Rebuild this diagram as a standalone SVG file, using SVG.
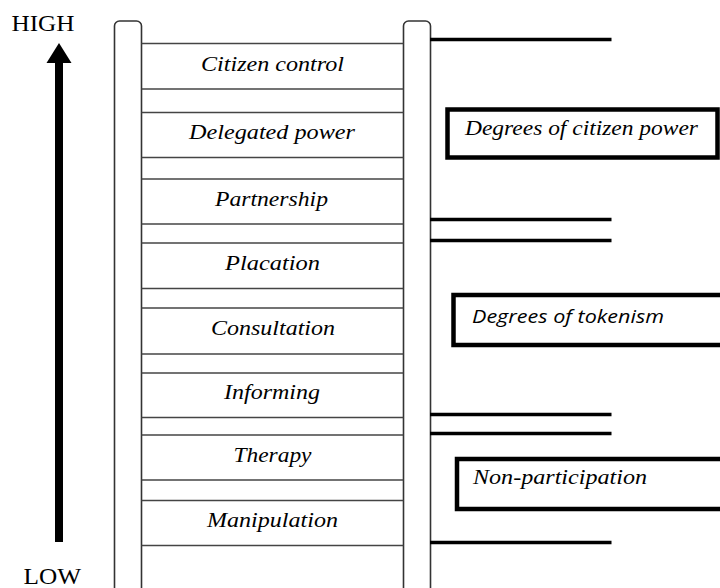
<svg xmlns="http://www.w3.org/2000/svg" width="720" height="588" viewBox="0 0 720 588">
<style>
.rail{fill:#fff;stroke:#333;stroke-width:1.6}
.rung{stroke:#444;stroke-width:1.6}
.lab{font-family:"Liberation Serif",serif;font-style:italic;font-size:21px;fill:#000}
.tick{stroke:#000;stroke-width:3.5}
.grp{fill:#fff;stroke:#000;stroke-width:4.5}
.axis{font-family:"Liberation Serif",serif;font-size:24px;fill:#000}
</style>
<rect width="720" height="588" fill="#fff"/>
<g id="arrow">
<rect x="55" y="60" width="8" height="482" fill="#000"/>
<polygon points="59,43 46.5,63 71.5,63" fill="#000"/>
<text class="axis" x="11.5" y="31" textLength="63" lengthAdjust="spacingAndGlyphs">HIGH</text>
<text class="axis" x="23.5" y="584" textLength="57.5" lengthAdjust="spacingAndGlyphs">LOW</text>
</g>
<g id="rails">
<rect class="rail" x="114.5" y="21" width="27" height="580" rx="5"/>
<rect class="rail" x="403.5" y="21" width="27" height="580" rx="5"/>
</g>
<g id="rungs">
<line class="rung" x1="141.5" y1="43.5" x2="403.5" y2="43.5"/>
<line class="rung" x1="141.5" y1="89" x2="403.5" y2="89"/>
<line class="rung" x1="141.5" y1="112.5" x2="403.5" y2="112.5"/>
<line class="rung" x1="141.5" y1="157.5" x2="403.5" y2="157.5"/>
<line class="rung" x1="141.5" y1="179" x2="403.5" y2="179"/>
<line class="rung" x1="141.5" y1="224" x2="403.5" y2="224"/>
<line class="rung" x1="141.5" y1="243" x2="403.5" y2="243"/>
<line class="rung" x1="141.5" y1="288.5" x2="403.5" y2="288.5"/>
<line class="rung" x1="141.5" y1="308" x2="403.5" y2="308"/>
<line class="rung" x1="141.5" y1="354" x2="403.5" y2="354"/>
<line class="rung" x1="141.5" y1="373" x2="403.5" y2="373"/>
<line class="rung" x1="141.5" y1="417.5" x2="403.5" y2="417.5"/>
<line class="rung" x1="141.5" y1="435" x2="403.5" y2="435"/>
<line class="rung" x1="141.5" y1="480" x2="403.5" y2="480"/>
<line class="rung" x1="141.5" y1="500.5" x2="403.5" y2="500.5"/>
<line class="rung" x1="141.5" y1="545.5" x2="403.5" y2="545.5"/>
</g>
<g id="n-citizen-control"><text class="lab" x="201" y="71" textLength="143" lengthAdjust="spacingAndGlyphs">Citizen control</text></g>
<g id="n-delegated-power"><text class="lab" x="189" y="139" textLength="166" lengthAdjust="spacingAndGlyphs">Delegated power</text></g>
<g id="n-partnership"><text class="lab" x="215" y="206" textLength="113" lengthAdjust="spacingAndGlyphs">Partnership</text></g>
<g id="n-placation"><text class="lab" x="225" y="270" textLength="95" lengthAdjust="spacingAndGlyphs">Placation</text></g>
<g id="n-consultation"><text class="lab" x="211" y="335" textLength="124" lengthAdjust="spacingAndGlyphs">Consultation</text></g>
<g id="n-informing"><text class="lab" x="224" y="399" textLength="96" lengthAdjust="spacingAndGlyphs">Informing</text></g>
<g id="n-therapy"><text class="lab" x="233.5" y="462" textLength="78" lengthAdjust="spacingAndGlyphs">Therapy</text></g>
<g id="n-manipulation"><text class="lab" x="207" y="527" textLength="131" lengthAdjust="spacingAndGlyphs">Manipulation</text></g>
<g id="brackets">
<line class="tick" x1="430" y1="39.5" x2="611.5" y2="39.5"/>
<line class="tick" x1="430" y1="219.5" x2="611.5" y2="219.5"/>
<line class="tick" x1="430" y1="240.5" x2="611.5" y2="240.5"/>
<line class="tick" x1="430" y1="414.5" x2="611.5" y2="414.5"/>
<line class="tick" x1="430" y1="433.5" x2="611.5" y2="433.5"/>
<line class="tick" x1="430" y1="542.5" x2="611.5" y2="542.5"/>
</g>
<g id="n-citizen-power">
<rect class="grp" x="447.5" y="109.5" width="270" height="48"/>
<text class="lab" x="465" y="135" textLength="233" lengthAdjust="spacingAndGlyphs">Degrees of citizen power</text>
</g>
<g id="n-tokenism">
<rect class="grp" x="453.5" y="295" width="275" height="50"/>
<text x="472" y="323" font-family="'Open Sans',sans-serif" font-style="italic" font-size="18" textLength="192" lengthAdjust="spacingAndGlyphs" fill="#000">Degrees of tokenism</text>
</g>
<g id="n-non-participation">
<rect class="grp" x="457" y="459" width="275" height="50"/>
<text class="lab" x="473" y="483.5" textLength="174" lengthAdjust="spacingAndGlyphs">Non-participation</text>
</g>
</svg>
